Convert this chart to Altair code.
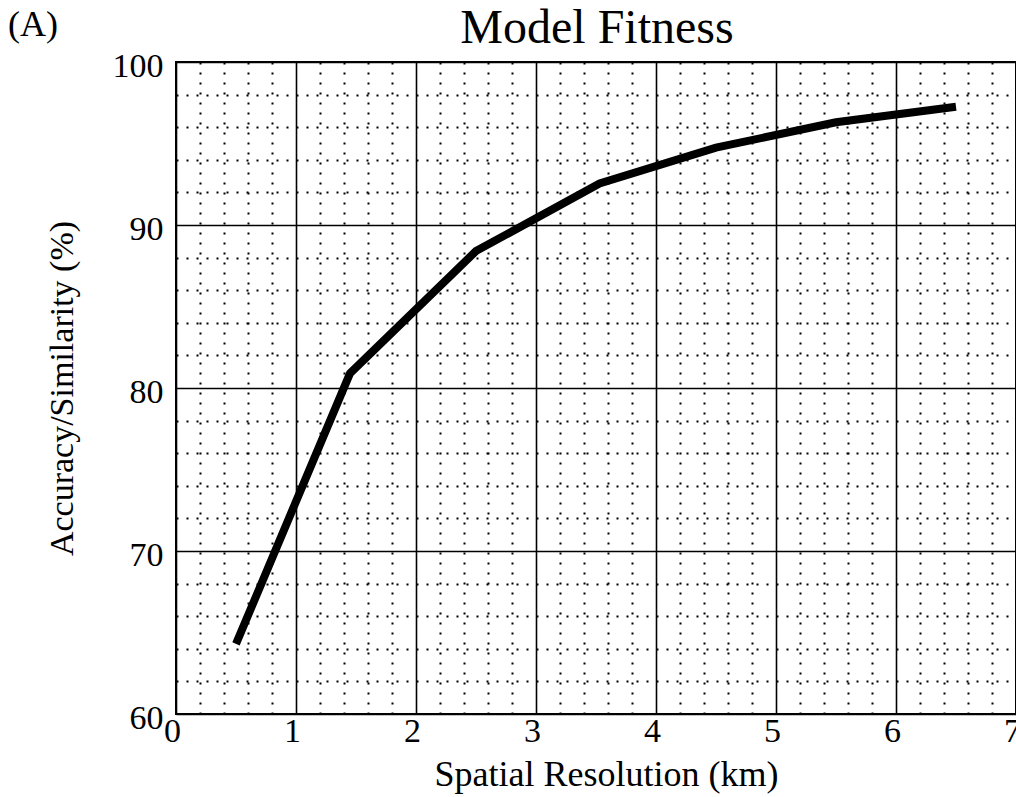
import altair as alt
import pandas as pd

# Data
resolution_km = [0.5, 1.45, 2.5, 3.53, 4.5, 5.5, 6.5]
accuracy_pct = [64.3, 80.9, 88.4, 92.55, 94.75, 96.3, 97.25]

x_ticks = [round(i * 0.2, 1) for i in range(36)]   # 0 .. 7 step 0.2
y_ticks = list(range(60, 101, 2))                  # 60 .. 100 step 2

chart_title = "Model Fitness"
panel_label = "(A)"
x_title = "Spatial Resolution (km)"
y_title = "Accuracy/Similarity (%)"

FONT = "Liberation Serif"

df = pd.DataFrame({"res": resolution_km, "acc": accuracy_pct})

x_major = "abs(datum.value - round(datum.value)) < 0.01"
y_major = "datum.value % 10 === 0"

x_axis = alt.Axis(
    values=x_ticks,
    ticks=False,
    domain=False,
    grid=True,
    gridColor="black",
    gridOpacity=1,
    gridDash={"condition": {"test": x_major, "value": [1, 0]}, "value": [2, 8]},
    gridWidth={"condition": {"test": x_major, "value": 1.6}, "value": 2},
    labelExpr=f"{x_major} ? format(datum.value, 'd') : ''",
    labelFont=FONT,
    labelFontSize=34,
    labelColor="black",
    labelPadding=0,
    labelOffset=-4,
    labelFlush=False,
    labelOverlap=False,
    labelBound=False,
    title=x_title,
    titleFont=FONT,
    titleFontSize=36,
    titleFontWeight="normal",
    titleColor="black",
    titleX=430,
    titleY=71,
    titleAlign="center",
    titleBaseline="alphabetic",
)

y_axis = alt.Axis(
    values=y_ticks,
    ticks=False,
    domain=False,
    grid=True,
    gridColor="black",
    gridOpacity=1,
    gridDash={"condition": {"test": y_major, "value": [1, 0]}, "value": [2, 8]},
    gridWidth={"condition": {"test": y_major, "value": 1.6}, "value": 2},
    labelExpr=f"{y_major} ? format(datum.value, 'd') : ''",
    labelFont=FONT,
    labelFontSize=34,
    labelColor="black",
    labelPadding=13,
    labelOffset=4,
    labelBaseline="middle",
    labelFlush=False,
    labelOverlap=False,
    labelBound=False,
    title=y_title,
    titleFont=FONT,
    titleFontSize=34,
    titleFontWeight="normal",
    titleColor="black",
    titleAngle=-90,
    titleX=-114,
    titleY=326,
    titleAlign="center",
    titleBaseline="middle",
)

line = alt.Chart(df).mark_line(
    color="black", strokeWidth=8, strokeCap="butt", strokeJoin="miter"
).encode(
    x=alt.X("res:Q", scale=alt.Scale(domain=[0, 7], nice=False, zero=False), axis=x_axis),
    y=alt.Y("acc:Q", scale=alt.Scale(domain=[60, 100], nice=False, zero=False), axis=y_axis),
)

label = alt.Chart(pd.DataFrame({"t": [panel_label]})).mark_text(
    font=FONT, fontSize=36, align="left", baseline="alphabetic", color="black"
).encode(
    text="t:N",
    x=alt.value(-168),
    y=alt.value(-26),
)

title = alt.Chart(pd.DataFrame({"t": [chart_title]})).mark_text(
    font=FONT, fontSize=48, align="center", baseline="alphabetic", color="black"
).encode(
    text="t:N",
    x=alt.value(421),
    y=alt.value(-19),
)

chart = alt.layer(line, label, title).properties(
    width=840,
    height=652,
    autosize=alt.AutoSizeParams(type="none"),
    padding={"left": 176, "top": 62, "right": 0, "bottom": 80},
    background="white",
).configure_view(stroke="black", strokeWidth=2)

chart.save("out.html", embed_options={"renderer": "svg", "actions": False})
